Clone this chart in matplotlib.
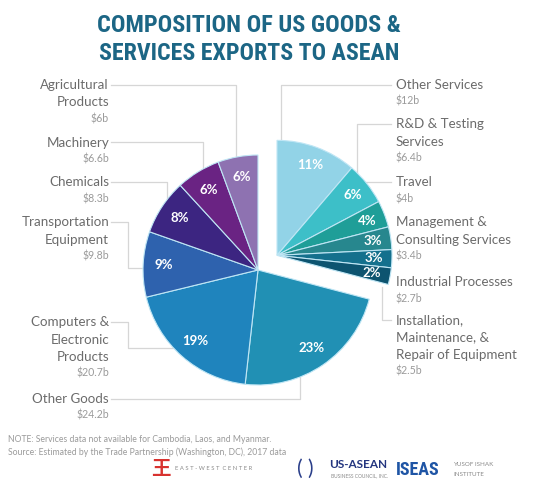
import numpy as np
import matplotlib.pyplot as plt
from matplotlib import font_manager

W, H = 550, 495

# data
goods_labels = ['Other Goods', 'Computers &\nElectronic\nProducts', 'Transportation\nEquipment',
                'Chemicals', 'Machinery', 'Agricultural\nProducts']
goods_values = [24.2, 20.7, 9.8, 8.3, 6.6, 6.0]
goods_text = ['$24.2b', '$20.7b', '$9.8b', '$8.3b', '$6.6b', '$6b']
services_labels = ['Other Services', 'R&D & Testing\nServices', 'Travel',
                   'Management &\nConsulting Services', 'Industrial Processes',
                   'Installation,\nMaintenance, &\nRepair of Equipment']
services_values = [12.0, 6.4, 4.0, 3.4, 2.7, 2.5]
services_text = ['$12b', '$6.4b', '$4b', '$3.4b', '$2.7b', '$2.5b']

goods_colors = ['#2190b4', '#1f84bd', '#2e62ae', '#3c2581', '#6a2383', '#8e72b1']
services_colors = ['#92d3e7', '#3dbfc8', '#1f9e98', '#27878e', '#14708d', '#0d5470']

total = sum(goods_values) + sum(services_values)
goods_frac = [v / total for v in goods_values]
services_frac = [v / total for v in services_values]

# fonts
flist = font_manager.fontManager.ttflist
fams = {f.name for f in flist}
title_font, title_stretch = 'DejaVu Sans', 'normal'
for cand in ['Roboto Condensed', 'Liberation Sans Narrow', 'Open Sans Condensed']:
    if cand in fams:
        title_font = cand
        break
else:
    if any(f.name == 'DejaVu Sans' and f.stretch == 'condensed' for f in flist):
        title_stretch = 'condensed'
    elif 'Roboto' in fams:
        title_font = 'Roboto'
label_font = ['Lato', 'DejaVu Sans']

fig = plt.figure(figsize=(W / 100, H / 100), dpi=100)
ax = fig.add_axes([0, 0, 1, 1])

cx, cy, r = 258, H - 270, 115
serv_angle = 360 * sum(services_frac)
mid = np.radians(90 - serv_angle / 2)
off = 24
scx, scy = cx + off * np.cos(mid), cy + off * np.sin(mid)

edge = dict(edgecolor='#bfe6f5', linewidth=0.8)
txt = dict(color='white', fontsize=9.5, fontweight='bold', family=label_font)

ax.pie(goods_frac, colors=goods_colors, startangle=90 - serv_angle, counterclock=False,
       center=(cx, cy), radius=r, wedgeprops=edge, pctdistance=0.82, normalize=False,
       autopct='%.0f%%', textprops=txt)
ax.pie(services_frac, colors=services_colors, startangle=90, counterclock=False,
       center=(scx, scy), radius=r, wedgeprops=edge, pctdistance=0.84, normalize=False,
       autopct='%.0f%%', textprops=txt)

ax.set_xlim(0, W)
ax.set_ylim(0, H)
ax.set_aspect('equal')
ax.axis('off')

# title, sized to the reference width
renderer = fig.canvas.get_renderer()
for i, line in enumerate(['COMPOSITION OF US GOODS &', 'SERVICES EXPORTS TO ASEAN']):
    t = ax.text(249, H - 25 - 28 * i, line, ha='center', va='center', fontsize=21,
                fontweight='bold', family=title_font, fontstretch=title_stretch,
                color='#1c6685')
    w = t.get_window_extent(renderer).width
    target = 305 if i == 0 else 300
    t.set_fontsize(min(21, 21 * target / w))

# category labels
name_c, val_c, gap = '#6b6b6b', '#9a9a9a', 17.5
left_y = [399, 322, 222, 182, 143, 85]
right_y = [85, 124, 182, 222, 282, 320]


def block(x, y, name, val, ha):
    lines = name.split('\n')
    for k, ln in enumerate(lines):
        ax.text(x, H - (y + gap * k), ln, ha=ha, va='center', fontsize=9.6,
                color=name_c, family=label_font)
    ax.text(x, H - (y + gap * len(lines) - 1), val, ha=ha, va='center', fontsize=7.6,
            color=val_c, family=label_font)


for name, val, y in zip(goods_labels, goods_text, left_y):
    block(109, y, name, val, 'right')
for name, val, y in zip(services_labels, services_text, right_y):
    block(396, y, name, val, 'left')


# leader lines (image coords, y down)
def circ_y(x0, ccx, ccy, top=True):
    d = np.sqrt(max(r ** 2 - (x0 - ccx) ** 2, 0))
    return ccy - d if top else ccy + d


def circ_x(y0, ccx, ccy, left=True):
    d = np.sqrt(max(r ** 2 - (y0 - ccy) ** 2, 0))
    return ccx - d if left else ccx + d


gcx, gcy = cx, 270
scx_i, scy_i = scx, H - scy
lc = dict(color='#d6d6d6', lw=0.9)
leaders = [
    [(111, 85), (236, 85), (236, circ_y(236, gcx, gcy))],
    [(111, 142), (203, 142), (203, circ_y(203, gcx, gcy))],
    [(111, 182), (167, 182), (167, circ_y(167, gcx, gcy))],
    [(111, 222), (128, 222), (128, 268), (circ_x(268, gcx, gcy), 268)],
    [(111, 322), (128, 322), (128, 348), (circ_x(348, gcx, gcy), 348)],
    [(111, 399), (300, 399), (300, circ_y(300, gcx, gcy, top=False))],
    [(391, 85), (281, 85), (281, circ_y(281, scx_i, scy_i))],
    [(391, 124), (357, 124), (357, circ_y(357, scx_i, scy_i))],
    [(391, 182), (circ_x(182, scx_i, scy_i, left=False), 182)],
    [(391, 320), (382, 320), (382, 287)],
]
for pts in leaders:
    xs, ys = zip(*pts)
    ax.plot(xs, [H - v for v in ys], zorder=0, **lc)

# notes
ax.text(8, H - 440, 'NOTE: Services data not available for Cambodia, Laos, and Myanmar.',
        fontsize=6.2, color='#9a9a9a', family=label_font, va='center')
ax.text(8, H - 452, 'Source: Estimated by the Trade Partnership (Washington, DC), 2017 data',
        fontsize=6.2, color='#9a9a9a', family=label_font, va='center')

# logos as text
ax.text(161, H - 470, '\u738b', fontsize=14, color='#d8322f', ha='center', va='center',
        family=['Noto Sans CJK SC', 'DejaVu Sans'], fontweight='bold')
ax.text(175, H - 469, 'E A S T - W E S T  C E N T E R', fontsize=4.2, color='#8a8a8a',
        va='center', family=label_font)
ax.text(305, H - 469, '( )', fontsize=15, color='#2b3f8a', ha='center', va='center',
        family=label_font)
ax.text(329, H - 465, 'US-ASEAN', fontsize=8.5, color='#23357f', fontweight='bold',
        va='center', family=label_font)
ax.text(331, H - 476, 'BUSINESS COUNCIL, INC.', fontsize=3.5, color='#8a8a8a', va='center',
        family=label_font)
ax.text(396, H - 470, 'ISEAS', fontsize=13, color='#1f55a5', fontweight='bold', va='center',
        family=title_font)
ax.text(453, H - 465, 'YUSOF ISHAK', fontsize=4.5, color='#8a8a8a', va='center', family=label_font)
ax.text(453, H - 474, 'INSTITUTE', fontsize=4.5, color='#8a8a8a', va='center', family=label_font)

fig.savefig('out.png', dpi=100, facecolor='white')
